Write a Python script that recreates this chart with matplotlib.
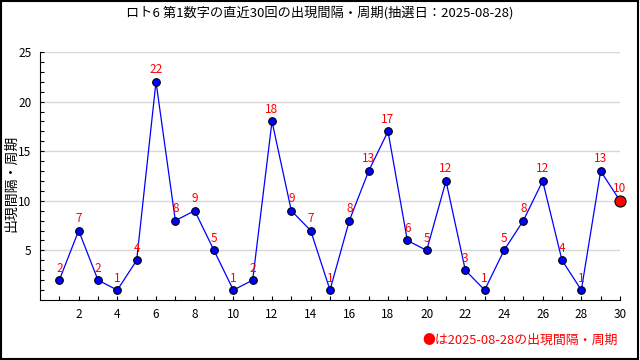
import matplotlib
matplotlib.use('Agg')
import matplotlib.pyplot as plt
from matplotlib.patches import Rectangle

plt.rcParams['font.family'] = ['Noto Sans CJK JP', 'DejaVu Sans']

draws = list(range(1, 31))
intervals = [2, 7, 2, 1, 4, 22, 8, 9, 5, 1, 2, 18, 9, 7, 1, 8, 13, 17, 6, 5,
             12, 3, 1, 5, 8, 12, 4, 1, 13, 10]
draw_date = '2025-08-28'

fig = plt.figure(figsize=(6.4, 3.6), dpi=100)
ax = fig.add_axes([0.0625, 0.1667, 0.90625, 0.6889])

ax.plot(draws, intervals, color='#0000ff', lw=0.9, zorder=3)
ax.plot(draws[:-1], intervals[:-1], 'o', ms=5.5, mfc='#0000ff', mec='black',
        mew=0.8, zorder=4, clip_on=False)
ax.plot(draws[-1:], intervals[-1:], 'o', ms=8, mfc='#ff0000', mec='black',
        mew=0.8, zorder=5, clip_on=False)

for x, y in zip(draws, intervals):
    ax.annotate(str(y), (x, y), xytext=(0, 4), textcoords='offset points',
                ha='center', va='bottom', color='#ff0000', fontsize=8.5,
                zorder=6)

ax.set_xlim(0, 30)
ax.set_ylim(0, 25)
ax.set_xticks(range(1, 31), minor=True)
ax.set_xticks(range(2, 31, 2))
ax.set_yticks(range(1, 26), minor=True)
ax.set_yticks(range(5, 26, 5))
ax.tick_params(which='both', direction='in', length=3, width=0.8,
               labelsize=8.5, pad=6)
ax.grid(axis='y', color='#d8d8d8', lw=1)
ax.set_axisbelow(True)
for s in ('top', 'right'):
    ax.spines[s].set_visible(False)

# y axis title placed by hand so it is not cut at the left edge
fig.text(0.017, 0.49, '出現間隔・周期', rotation=90, ha='center', va='center',
         fontsize=10)

fig.text(0.5, 0.965, f'ロト6 第1数字の直近30回の出現間隔・周期(抽選日：{draw_date})',
         ha='center', va='center', fontsize=9.5)
fig.text(0.966, 0.055, f'●は{draw_date}の出現間隔・周期', ha='right',
         va='center', color='#ff0000', fontsize=9.3)

fig.patches.append(Rectangle((0.001, 0.002), 0.996, 0.996, transform=fig.transFigure,
                             fill=False, ec='black', lw=1.5))

fig.savefig('out.png', dpi=100)
